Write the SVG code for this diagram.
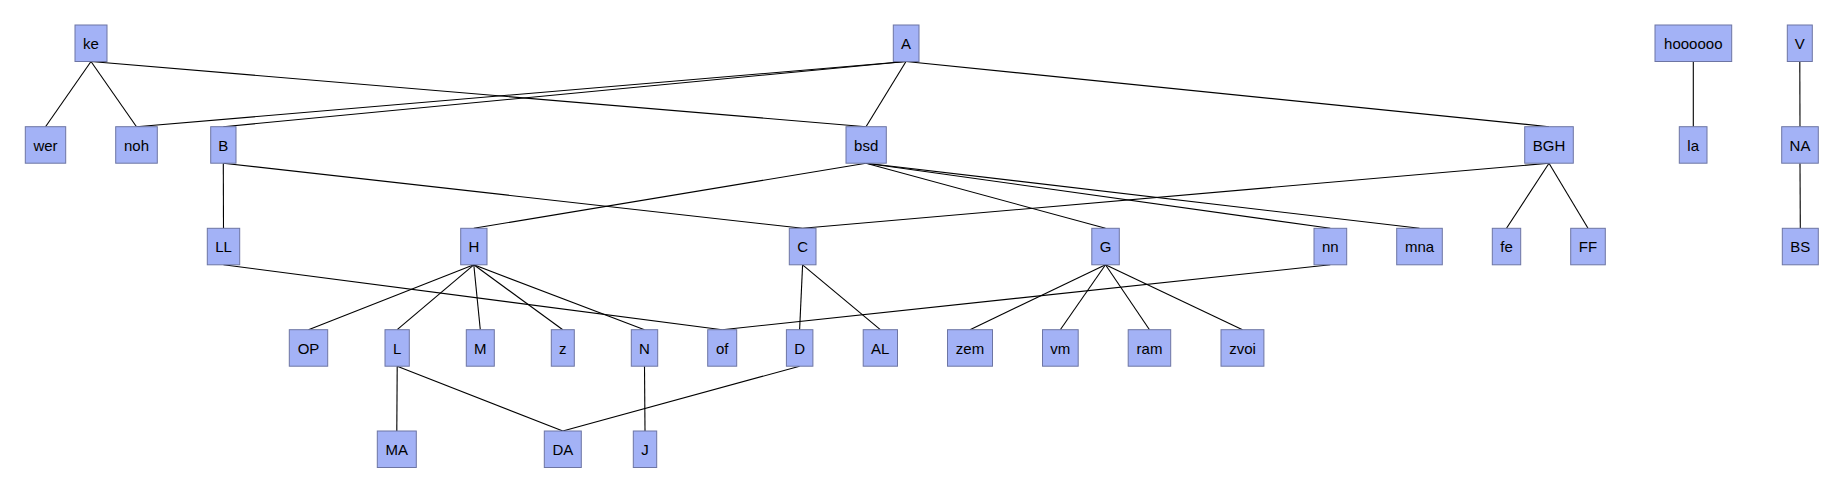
<svg xmlns="http://www.w3.org/2000/svg" width="1843" height="492" viewBox="0 0 1843 492">
<style>
.n rect{fill:#a3b2f6;stroke:#6d75a3;stroke-width:1}
.n text{font-family:"Liberation Sans",Arial,sans-serif;font-size:15px;fill:#000;text-anchor:middle;dominant-baseline:central}
#edges line{stroke:#000;stroke-width:1.1}
</style>
<rect width="1843" height="492" fill="#fff"/>
<g id="edges">
<line x1="91" y1="61.5" x2="45.5" y2="126.7"/>
<line x1="91" y1="61.5" x2="136.5" y2="126.7"/>
<line x1="91" y1="61.5" x2="866" y2="126.7"/>
<line x1="906" y1="61.5" x2="136.5" y2="126.7"/>
<line x1="906" y1="61.5" x2="223.3" y2="126.7"/>
<line x1="906" y1="61.5" x2="866" y2="126.7"/>
<line x1="906" y1="61.5" x2="1549" y2="126.7"/>
<line x1="1693.3" y1="61.5" x2="1693.3" y2="126.7"/>
<line x1="1799.8" y1="61.5" x2="1800" y2="126.7"/>
<line x1="223.3" y1="163.2" x2="223.5" y2="228.3"/>
<line x1="223.3" y1="163.2" x2="802.6" y2="228.3"/>
<line x1="866" y1="163.2" x2="473.8" y2="228.3"/>
<line x1="866" y1="163.2" x2="1105.5" y2="228.3"/>
<line x1="866" y1="163.2" x2="1330.3" y2="228.3"/>
<line x1="866" y1="163.2" x2="1419.5" y2="228.3"/>
<line x1="1549" y1="163.2" x2="802.6" y2="228.3"/>
<line x1="1549" y1="163.2" x2="1506.5" y2="228.3"/>
<line x1="1549" y1="163.2" x2="1588" y2="228.3"/>
<line x1="1800" y1="163.2" x2="1800.3" y2="228.3"/>
<line x1="223.5" y1="264.8" x2="722.2" y2="329.7"/>
<line x1="473.8" y1="264.8" x2="308.5" y2="329.7"/>
<line x1="473.8" y1="264.8" x2="397.2" y2="329.7"/>
<line x1="473.8" y1="264.8" x2="480.3" y2="329.7"/>
<line x1="473.8" y1="264.8" x2="562.8" y2="329.7"/>
<line x1="473.8" y1="264.8" x2="644.5" y2="329.7"/>
<line x1="802.6" y1="264.8" x2="799.6" y2="329.7"/>
<line x1="802.6" y1="264.8" x2="880.3" y2="329.7"/>
<line x1="1105.5" y1="264.8" x2="970" y2="329.7"/>
<line x1="1105.5" y1="264.8" x2="1060.3" y2="329.7"/>
<line x1="1105.5" y1="264.8" x2="1149.5" y2="329.7"/>
<line x1="1105.5" y1="264.8" x2="1242.5" y2="329.7"/>
<line x1="1330.3" y1="264.8" x2="722.2" y2="329.7"/>
<line x1="397.2" y1="366.2" x2="396.8" y2="431"/>
<line x1="397.2" y1="366.2" x2="562.8" y2="431"/>
<line x1="644.5" y1="366.2" x2="645" y2="431"/>
<line x1="799.6" y1="366.2" x2="562.8" y2="431"/>
</g>
<g id="ke" class="n"><rect x="75" y="25" width="32" height="36.5"/><text x="91" y="43.3">ke</text></g>
<g id="A" class="n"><rect x="893.3" y="25" width="25.7" height="36.5"/><text x="906" y="43.3">A</text></g>
<g id="hoooooo" class="n"><rect x="1655" y="25" width="76.7" height="36.5"/><text x="1693.3" y="43.3">hoooooo</text></g>
<g id="V" class="n"><rect x="1787.3" y="25" width="25" height="36.5"/><text x="1799.8" y="43.3">V</text></g>
<g id="wer" class="n"><rect x="25.3" y="126.7" width="40.4" height="36.5"/><text x="45.5" y="145">wer</text></g>
<g id="noh" class="n"><rect x="115.7" y="126.7" width="41.6" height="36.5"/><text x="136.5" y="145">noh</text></g>
<g id="B" class="n"><rect x="210.7" y="126.7" width="25.3" height="36.5"/><text x="223.3" y="145">B</text></g>
<g id="bsd" class="n"><rect x="846" y="126.7" width="40.3" height="36.5"/><text x="866.2" y="145">bsd</text></g>
<g id="BGH" class="n"><rect x="1524.7" y="126.7" width="48.6" height="36.5"/><text x="1549" y="145">BGH</text></g>
<g id="la" class="n"><rect x="1679.3" y="126.7" width="27.7" height="36.5"/><text x="1693.2" y="145">la</text></g>
<g id="NA" class="n"><rect x="1781.7" y="126.7" width="36.6" height="36.5"/><text x="1800" y="145">NA</text></g>
<g id="LL" class="n"><rect x="207.3" y="228.3" width="32.4" height="36.5"/><text x="223.5" y="246.6">LL</text></g>
<g id="H" class="n"><rect x="460.7" y="228.3" width="26.3" height="36.5"/><text x="473.8" y="246.6">H</text></g>
<g id="C" class="n"><rect x="789.3" y="228.3" width="26.7" height="36.5"/><text x="802.6" y="246.6">C</text></g>
<g id="G" class="n"><rect x="1091.8" y="228.3" width="27.5" height="36.5"/><text x="1105.5" y="246.6">G</text></g>
<g id="nn" class="n"><rect x="1314" y="228.3" width="32.7" height="36.5"/><text x="1330.3" y="246.6">nn</text></g>
<g id="mna" class="n"><rect x="1396.7" y="228.3" width="45.6" height="36.5"/><text x="1419.5" y="246.6">mna</text></g>
<g id="fe" class="n"><rect x="1492.3" y="228.3" width="28.4" height="36.5"/><text x="1506.5" y="246.6">fe</text></g>
<g id="FF" class="n"><rect x="1570.7" y="228.3" width="34.6" height="36.5"/><text x="1588" y="246.6">FF</text></g>
<g id="BS" class="n"><rect x="1782.3" y="228.3" width="36" height="36.5"/><text x="1800.3" y="246.6">BS</text></g>
<g id="OP" class="n"><rect x="289.3" y="329.7" width="38.4" height="36.5"/><text x="308.5" y="348">OP</text></g>
<g id="L" class="n"><rect x="385" y="329.7" width="24.3" height="36.5"/><text x="397.2" y="348">L</text></g>
<g id="M" class="n"><rect x="466.3" y="329.7" width="28" height="36.5"/><text x="480.3" y="348">M</text></g>
<g id="z" class="n"><rect x="551.3" y="329.7" width="23" height="36.5"/><text x="562.8" y="348">z</text></g>
<g id="N" class="n"><rect x="631.3" y="329.7" width="26.4" height="36.5"/><text x="644.5" y="348">N</text></g>
<g id="of" class="n"><rect x="707.7" y="329.7" width="29" height="36.5"/><text x="722.2" y="348">of</text></g>
<g id="D" class="n"><rect x="786.4" y="329.7" width="26.5" height="36.5"/><text x="799.6" y="348">D</text></g>
<g id="AL" class="n"><rect x="863.2" y="329.7" width="34.3" height="36.5"/><text x="880.3" y="348">AL</text></g>
<g id="zem" class="n"><rect x="947.5" y="329.7" width="45" height="36.5"/><text x="970" y="348">zem</text></g>
<g id="vm" class="n"><rect x="1042.5" y="329.7" width="35.7" height="36.5"/><text x="1060.3" y="348">vm</text></g>
<g id="ram" class="n"><rect x="1128.2" y="329.7" width="42.5" height="36.5"/><text x="1149.5" y="348">ram</text></g>
<g id="zvoi" class="n"><rect x="1221" y="329.7" width="42.9" height="36.5"/><text x="1242.5" y="348">zvoi</text></g>
<g id="MA" class="n"><rect x="377.3" y="431" width="39" height="36.5"/><text x="396.8" y="449.3">MA</text></g>
<g id="DA" class="n"><rect x="544.3" y="431" width="37" height="36.5"/><text x="562.8" y="449.3">DA</text></g>
<g id="J" class="n"><rect x="633.3" y="431" width="23.4" height="36.5"/><text x="645" y="449.3">J</text></g>
</svg>
